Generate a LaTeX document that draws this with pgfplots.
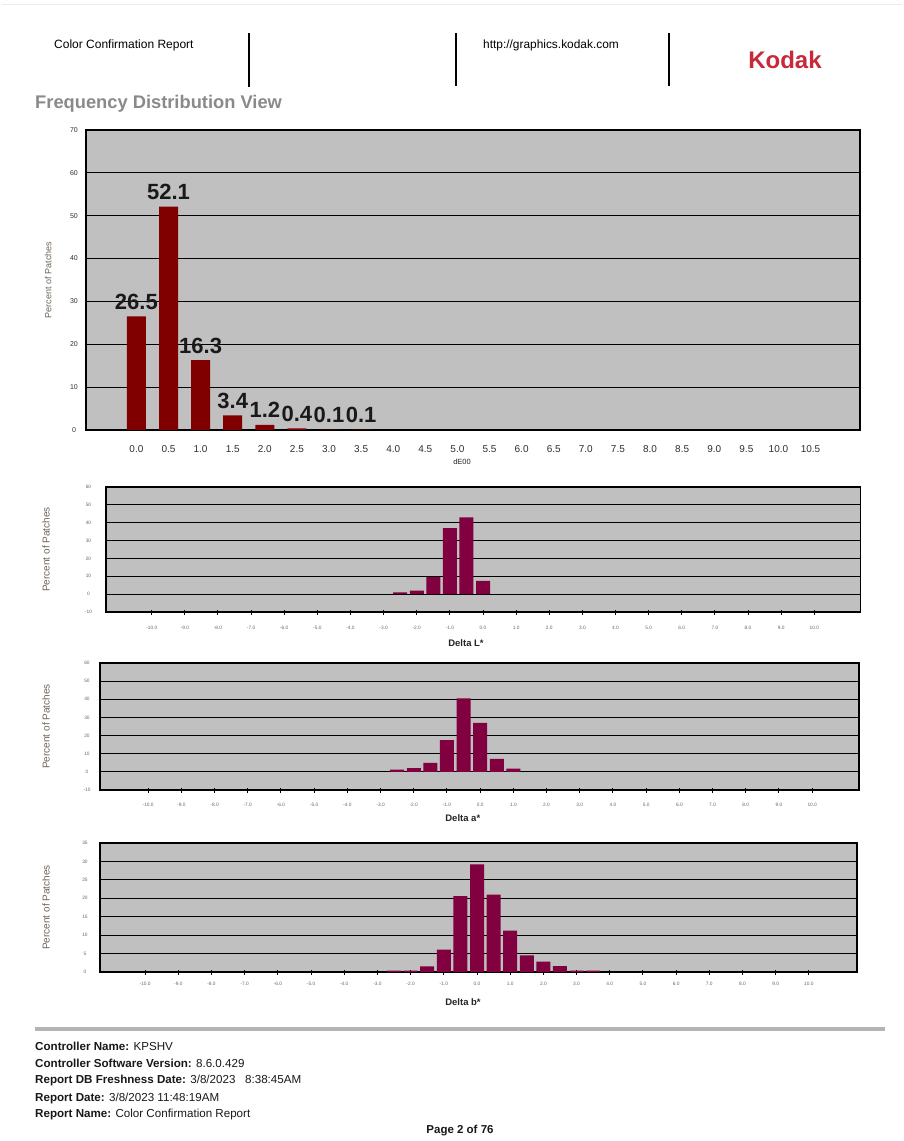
\documentclass[border=0pt]{standalone}
\usepackage{fontspec}
\setmainfont{Liberation Sans}
\usepackage{pgfplots}
\usepackage{pgfplotstable}
\pgfplotsset{compat=1.18}
\definecolor{plotbg}{HTML}{C0C0C0}
\definecolor{barA}{HTML}{800000}
\definecolor{barB}{HTML}{800040}
\definecolor{kodakred}{HTML}{C8283A}
\definecolor{titlegray}{HTML}{8A8A8A}
\definecolor{ticktext}{HTML}{303030}
\definecolor{labgray}{HTML}{6E6458}
\definecolor{rulegray}{HTML}{B4B4B4}

\pgfplotstableread{
x y
0 26.5
1 52.1
2 16.3
3 3.4
4 1.2
5 0.4
6 0.1
7 0.1
}\dEdata
\pgfplotstableread{
x y
-2.5 1.0
-2.0 2.0
-1.5 9.5
-1.0 37.0
-0.5 43.0
0.0 7.5
}\dLdata
\pgfplotstableread{
x y
-2.5 1.2
-2.0 2.0
-1.5 5.0
-1.0 17.5
-0.5 40.5
0.0 27.0
0.5 7.2
1.0 1.8
}\dAdata
\pgfplotstableread{
x y
-2.5 0.4
-2.0 0.4
-1.5 1.5
-1.0 6.1
-0.5 20.6
0.0 29.2
0.5 21.0
1.0 11.2
1.5 4.5
2.0 2.8
2.5 1.6
3.0 0.4
3.5 0.4
}\dBdata

\pgfplotsset{
  report/.style={
    scale only axis,
    anchor=north west,
    axis background/.style={fill=plotbg},
    axis line style={black, line width=1.4pt},
    ymajorgrids,
    major grid style={black, line width=1.1pt},
    ybar,
    ytick style={draw=none},
    tick label style={text=ticktext},
    /pgf/number format/assume math mode=true,
    tick pos=left,
    clip=false,
  },
  small/.style={
    bar width=14pt,
    xtick={-10,...,10},
    xticklabels={-10.0,-9.0,-8.0,-7.0,-6.0,-5.0,-4.0,-3.0,-2.0,-1.0,0.0,1.0,2.0,3.0,4.0,5.0,6.0,7.0,8.0,9.0,10.0},
    xtick style={black, line width=1pt},
    tick align=center,
    major tick length=5pt,
    xticklabel style={font=\fontsize{4.8}{5}\selectfont, anchor=center, text=black!60},
    xlabel style={font=\fontsize{9.5}{10}\selectfont\bfseries, text=black!85, anchor=center},
    ylabel style={font=\fontsize{10}{10}\selectfont, text=labgray, anchor=center},
    yticklabel style={font=\fontsize{4.8}{5}\selectfont, anchor=center, text=black!60},
  }
}

\begin{document}
\begin{tikzpicture}
\useasboundingbox (0pt,0pt) rectangle (904pt,-1141pt);
\fill[white] (0pt,0pt) rectangle (904pt,-1141pt);
\draw[black!8, line width=1pt] (2pt,-4pt) -- (902pt,-4pt);

% header
\node[anchor=base west, inner sep=0pt, font=\fontsize{12}{12}\selectfont] at (54pt,-48pt) {Color Confirmation Report};
\node[anchor=base west, inner sep=0pt, font=\fontsize{11.9}{12}\selectfont] at (483pt,-48pt) {http://graphics.kodak.com};
\draw[black, line width=1.6pt] (249pt,-33pt) -- (249pt,-87pt);
\draw[black, line width=1.6pt] (456pt,-33pt) -- (456pt,-86pt);
\draw[black, line width=1.6pt] (669pt,-33pt) -- (669pt,-86pt);
\node[anchor=base, inner sep=0pt, font=\fontsize{24}{24}\selectfont\bfseries, text=kodakred] at (785pt,-68pt) {Kodak};
\node[anchor=base west, inner sep=0pt, font=\fontsize{18.3}{19}\selectfont\bfseries, text=titlegray] at (35pt,-108pt) {Frequency Distribution View};

% dE00 chart
\begin{axis}[report,
  at={(86pt,-130pt)}, width=774pt, height=300pt,
  xmin=-1.57, xmax=22.54, ymin=0, ymax=70, ytick={0,10,...,70},
  xtick={0,...,21},
  xticklabels={0.0,0.5,1.0,1.5,2.0,2.5,3.0,3.5,4.0,4.5,5.0,5.5,6.0,6.5,7.0,7.5,8.0,8.5,9.0,9.5,10.0,10.5},
  xtick style={draw=none},
  bar width=19pt,
  xticklabel style={font=\fontsize{10}{10}\selectfont, anchor=center, yshift=-15pt},
  yticklabel style={font=\fontsize{7}{7}\selectfont, anchor=center, xshift=-12pt},
  xlabel={dE00},
  xlabel style={font=\fontsize{7.5}{8}\selectfont, text=black!85, at={(axis description cs:0.4858,-0.1067)}, anchor=center},
  ylabel={Percent of Patches},
  ylabel style={font=\fontsize{9}{9}\selectfont, text=labgray, at={(axis description cs:-0.049,0.5)}, anchor=center},
  nodes near coords={\pgfmathprintnumber[fixed,fixed zerofill,precision=1]{\pgfplotspointmeta}},
  every node near coord/.append style={font=\fontsize{22}{22}\selectfont\bfseries, text=black!90, anchor=base, inner sep=0pt, yshift=7pt},
]
\addplot[fill=barA, draw=none] table[x=x, y=y] {\dEdata};
\end{axis}

% Delta L*
\begin{axis}[report, small,
  at={(106pt,-487pt)}, width=754.7pt, height=125pt,
  xmin=-11.38, xmax=11.40, ymin=-10, ymax=60, ytick={-10,0,...,60},
  xticklabel style={yshift=-13pt},
  yticklabel style={xshift=-15pt},
  xlabel={Delta L*},
  xlabel style={at={(axis description cs:0.477,-0.248)}},
  ylabel={Percent of Patches},
  ylabel style={at={(axis description cs:-0.0795,0.5)}},
]
\addplot[fill=barB, draw=none] table[x=x, y=y] {\dLdata};
\end{axis}

% Delta a*
\begin{axis}[report, small,
  at={(100pt,-663pt)}, width=759pt, height=127pt,
  xmin=-11.45, xmax=11.41, ymin=-10, ymax=60, ytick={-10,0,...,60},
  xticklabel style={yshift=-12pt},
  yticklabel style={xshift=-10.5pt},
  xlabel={Delta a*},
  xlabel style={at={(axis description cs:0.478,-0.2205)}},
  ylabel={Percent of Patches},
  ylabel style={at={(axis description cs:-0.0711,0.5)}},
]
\addplot[fill=barB, draw=none] table[x=x, y=y] {\dAdata};
\end{axis}

% Delta b*
\begin{axis}[report, small,
  at={(100pt,-843pt)}, width=757pt, height=129pt,
  xmin=-11.36, xmax=11.45, ymin=0, ymax=35, ytick={0,5,...,35},
  xticklabel style={yshift=-9pt},
  yticklabel style={xshift=-12.5pt},
  xlabel={Delta b*},
  xlabel style={at={(axis description cs:0.4795,-0.2326)}},
  ylabel={Percent of Patches},
  ylabel style={at={(axis description cs:-0.0713,0.5)}},
]
\addplot[fill=barB, draw=none] table[x=x, y=y] {\dBdata};
\end{axis}

% footer
\draw[rulegray, line width=4pt] (35pt,-1029pt) -- (885pt,-1029pt);
\begin{scope}[every node/.style={anchor=base west, inner sep=0pt, font=\fontsize{11.6}{12}\selectfont, text=black!90}]
\node at (35pt,-1050pt) {\textbf{Controller Name:} KPSHV};
\node at (35pt,-1067pt) {\textbf{Controller Software Version:} 8.6.0.429};
\node at (35pt,-1083pt) {\textbf{Report DB Freshness Date:} 3/8/2023\ \ \ 8:38:45AM};
\node at (35pt,-1101pt) {\textbf{Report Date:} 3/8/2023 11:48:19AM};
\node at (35pt,-1117pt) {\textbf{Report Name:} Color Confirmation Report};
\end{scope}
\node[anchor=base, inner sep=0pt, font=\fontsize{11.5}{12}\selectfont\bfseries, text=black!90] at (460pt,-1133pt) {Page 2 of 76};
\end{tikzpicture}
\end{document}
